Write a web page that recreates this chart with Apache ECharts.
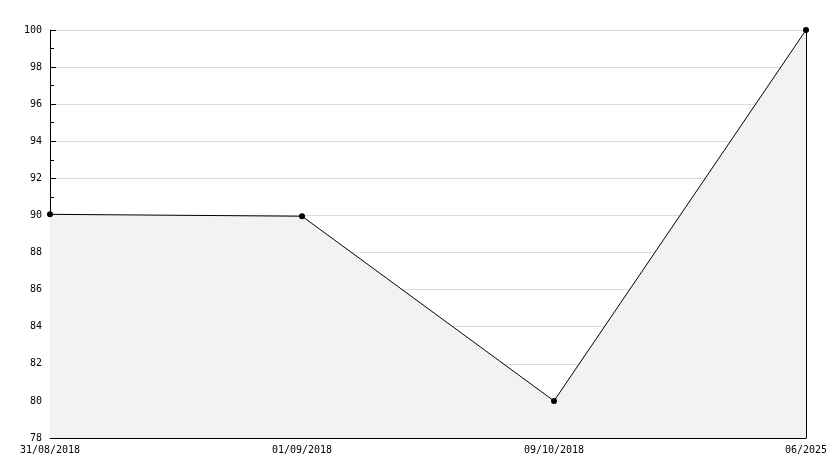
<!DOCTYPE html>
<html><head><meta charset="utf-8">
<script src="https://cdn.jsdelivr.net/npm/echarts@6/dist/echarts.min.js"></script>
<style>html,body{margin:0;padding:0;background:#fff}#c{width:834px;height:468px}</style>
</head><body><div id="c"></div>
<script>
const categories = ['31/08/2018', '01/09/2018', '09/10/2018', '06/2025'];
const values = [90.06, 89.96, 80, 100];
const yMin = 78, yMax = 100, yStep = 2;

const font = 'DejaVu Sans Mono';
const chart = echarts.init(document.getElementById('c'));
chart.setOption({
  animation: false,
  grid: { left: 50, right: 28, top: 30, bottom: 30 },
  xAxis: {
    type: 'category', data: categories, boundaryGap: false,
    axisLine: { lineStyle: { color: '#000', width: 1 } },
    axisTick: { inside: true, length: 5, lineStyle: { color: '#000' } },
    axisLabel: { color: '#000', fontFamily: font, fontSize: 10, margin: 7, showMinLabel: true, showMaxLabel: true },
    splitLine: { show: false }
  },
  yAxis: {
    type: 'value', min: yMin, max: yMax, interval: yStep,
    axisLine: { show: true, lineStyle: { color: '#000', width: 1 } },
    axisTick: { show: true, inside: true, length: 6, lineStyle: { color: '#000' } },
    minorTick: { show: true, splitNumber: 2, length: 4, lineStyle: { color: '#000' } },
    axisLabel: { color: '#000', fontFamily: font, fontSize: 10, margin: 8 },
    splitLine: { show: true, lineStyle: { color: '#dcdcdc', width: 1 } }
  },
  series: [{
    type: 'line', data: values,
    symbol: 'circle', symbolSize: 6,
    itemStyle: { color: '#000' },
    lineStyle: { color: '#000', width: 1 },
    areaStyle: { color: '#f2f2f2', opacity: 1, origin: 'start' },
    markLine: {
      silent: true, symbol: 'none', label: { show: false },
      lineStyle: { color: '#000', width: 1, type: 'solid' },
      data: [[{ coord: [categories[3], yMin] }, { coord: [categories[3], values[3]] }]]
    }
  }]
});
</script></body></html>
